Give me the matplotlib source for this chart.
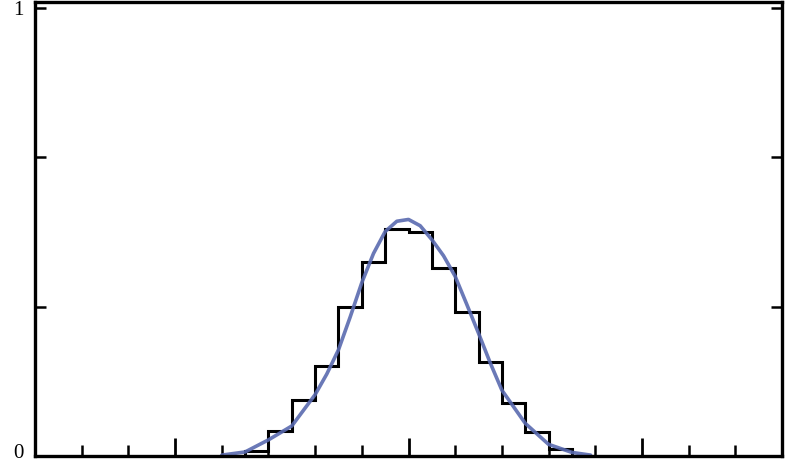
import numpy as np
import matplotlib
matplotlib.use("Agg")
import matplotlib.pyplot as plt
import matplotlib.transforms as mtransforms

# Histogram (bin edges and heights)
bin_edges = [-4.0, -3.5, -3.0, -2.5, -2.0, -1.5, -1.0, -0.5, 0.0,
             0.5, 1.0, 1.5, 2.0, 2.5, 3.0, 3.5, 4.0]
bin_heights = [0.0, 0.011, 0.056, 0.125, 0.201, 0.333, 0.433, 0.507,
               0.500, 0.420, 0.321, 0.210, 0.118, 0.054, 0.016, 0.0]

# Fitted curve, points
curve_x = [-4.0, -3.5, -3.0, -2.5, -2.0, -1.75, -1.5, -1.25, -1.0, -0.75,
           -0.5, -0.25, 0.0, 0.25, 0.5, 0.75, 1.0, 1.25, 1.5, 1.75,
           2.0, 2.5, 3.0, 3.5, 3.9]
curve_y = [0.002, 0.009, 0.036, 0.067, 0.137, 0.183, 0.237, 0.310, 0.387, 0.452,
           0.501, 0.524, 0.528, 0.514, 0.483, 0.447, 0.401, 0.338, 0.274, 0.208,
           0.147, 0.073, 0.026, 0.008, 0.002]

ytick_vals = [0, 1/3, 2/3, 1]
ytick_labels = ["0", "", "", "1"]

fig = plt.figure(figsize=(7.96, 4.66), dpi=100)
ax = fig.add_axes([35/796, 10/466, 747/796, 454/466])

ax.stairs(bin_heights, bin_edges, color="black", linewidth=2.2, baseline=0)
ax.plot(curve_x, curve_y, color="#5a6ab0", linewidth=2.6, alpha=0.9,
        solid_capstyle="round")

ax.set_xlim(-8, 8)
ax.set_ylim(0, 454/448)

ax.set_xticks(np.arange(-5, 6, 5))
ax.set_xticks(np.arange(-8, 9, 1), minor=True)
ax.tick_params(axis="x", which="major", direction="in", length=13, width=2,
               bottom=True, top=False, labelbottom=False)
ax.tick_params(axis="x", which="minor", direction="in", length=8, width=1.8,
               bottom=True, top=False)

ax.set_yticks(ytick_vals)
ax.set_yticklabels(ytick_labels, fontsize=15, family="Liberation Serif")
ax.tick_params(axis="y", which="major", direction="in", length=8, width=1.8,
               left=True, right=True, pad=8)

# nudge the bottom "0" label up a little so it stays inside the figure
lbl0 = ax.get_yticklabels()[0]
lbl0.set_transform(lbl0.get_transform() +
                   mtransforms.ScaledTranslation(0, 5/100, fig.dpi_scale_trans))

for s in ax.spines.values():
    s.set_linewidth(2.4)
    s.set_color("black")

fig.savefig("out.png", dpi=100)
